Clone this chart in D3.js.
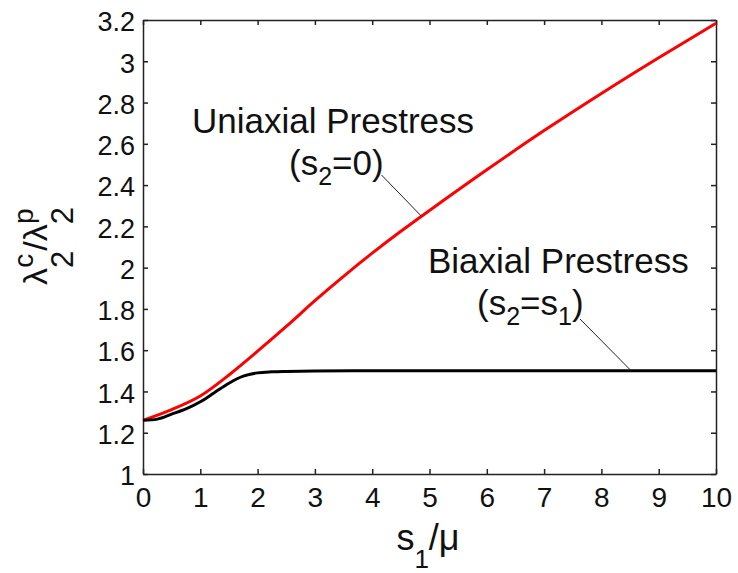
<!DOCTYPE html>
<html>
<head>
<meta charset="utf-8">
<script src="https://cdn.jsdelivr.net/npm/d3@7"></script>
<style>
  body { margin: 0; background: #fff; }
  text { font-family: "Liberation Sans", Arial, sans-serif; fill: #111; }
</style>
</head>
<body>
<script>
// values
const sUni = [0, 0.5, 1, 1.5, 2, 2.5, 3, 3.5, 4, 4.5, 5, 6, 7, 8, 9, 10]
const uniaxial = [1.26, 1.312, 1.378, 1.48, 1.595, 1.715, 1.84, 1.958, 2.07, 2.176, 2.277, 2.474, 2.664, 2.844, 3.017, 3.184]

const sBi = [0, 0.25, 0.5, 0.75, 1, 1.25, 1.5, 1.75, 2, 2.25, 2.5, 3, 4, 5, 6, 7, 8, 9, 10]
const biaxial = [1.26, 1.266, 1.29, 1.315, 1.35, 1.395, 1.44, 1.474, 1.49, 1.495, 1.497, 1.499, 1.5, 1.5, 1.5, 1.5, 1.5, 1.5, 1.5]

const xTicks = [0, 1, 2, 3, 4, 5, 6, 7, 8, 9, 10]
const yTicks = [1, 1.2, 1.4, 1.6, 1.8, 2, 2.2, 2.4, 2.6, 2.8, 3, 3.2]

let width = 738
let height = 573
let margin = { top: 20, right: 22, bottom: 99, left: 143 }
let w = width - margin.left - margin.right
let h = height - margin.top - margin.bottom

const svg = d3.select('body')
  .append('svg')
  .attr('width', width)
  .attr('height', height)

const g = svg.append('g')
  .attr('transform', `translate(${margin.left},${margin.top})`)

const x = d3.scaleLinear().domain([0, 10]).range([0, w])
const y = d3.scaleLinear().domain([1, 3.2]).range([h, 0])

const fmt = d => String(+d.toFixed(1))

function styleAxis(sel, size) {
  sel.attr('font-family', null).attr('font-size', size)
  sel.select('.domain').attr('stroke', '#222').attr('stroke-width', 1.5)
  sel.selectAll('.tick line').attr('stroke', '#222').attr('stroke-width', 1.5)
  sel.selectAll('.tick text').attr('fill', '#111')
}

// bottom + left with labels
g.append('g')
  .attr('transform', `translate(0,${h})`)
  .call(d3.axisBottom(x).tickValues(xTicks).tickFormat(fmt).tickSizeInner(-5).tickSizeOuter(0).tickPadding(13))
  .call(s => styleAxis(s, 28))

g.append('g')
  .call(d3.axisLeft(y).tickValues(yTicks).tickFormat(fmt).tickSizeInner(-5).tickSizeOuter(0).tickPadding(8))
  .call(s => styleAxis(s, 27))
  .call(s => s.selectAll('.tick text').attr('dy', '0.4em'))

// mirrored top + right, ticks only
g.append('g')
  .call(d3.axisTop(x).tickValues(xTicks).tickFormat('').tickSizeInner(-5).tickSizeOuter(0))
  .call(s => styleAxis(s, 10))

g.append('g')
  .attr('transform', `translate(${w},0)`)
  .call(d3.axisRight(y).tickValues(yTicks).tickFormat('').tickSizeInner(-5).tickSizeOuter(0))
  .call(s => styleAxis(s, 10))

const line = d3.line()
  .x(d => x(d[0]))
  .y(d => y(d[1]))
  .curve(d3.curveCatmullRom)

g.append('path')
  .datum(sUni.map((s, i) => [s, uniaxial[i]]))
  .attr('d', line)
  .attr('fill', 'none')
  .attr('stroke', '#ff0000')
  .attr('stroke-width', 3)

g.append('path')
  .datum(sBi.map((s, i) => [s, biaxial[i]]))
  .attr('d', line)
  .attr('fill', 'none')
  .attr('stroke', '#000')
  .attr('stroke-width', 3)

// annotations
const ann = svg.append('g').attr('font-size', 35)

ann.append('text').attr('x', 192).attr('y', 133).text('Uniaxial Prestress')
let t1 = ann.append('text').attr('x', 289).attr('y', 175)
t1.append('tspan').text('(s')
t1.append('tspan').attr('font-size', 25).attr('dy', 10).text('2')
t1.append('tspan').attr('dy', -10).text('=0)')

ann.append('text').attr('x', 428).attr('y', 273).text('Biaxial Prestress')
let t2 = ann.append('text').attr('x', 477).attr('y', 315)
t2.append('tspan').text('(s')
t2.append('tspan').attr('font-size', 25).attr('dy', 10).text('2')
t2.append('tspan').attr('dy', -10).text('=s')
t2.append('tspan').attr('font-size', 25).attr('dy', 10).text('1')
t2.append('tspan').attr('dy', -10).text(')')

// leader lines, ending on the curves
g.append('line')
  .attr('x1', 381.5 - margin.left).attr('y1', 175 - margin.top)
  .attr('x2', x(4.86)).attr('y2', y(2.249))
  .attr('stroke', '#222').attr('stroke-width', 1)

g.append('line')
  .attr('x1', 580 - margin.left).attr('y1', 319 - margin.top)
  .attr('x2', x(8.52)).attr('y2', y(1.5))
  .attr('stroke', '#222').attr('stroke-width', 1)

// x axis title  s1/mu
let xt = svg.append('text')
  .attr('x', 428).attr('y', 550)
  .attr('text-anchor', 'middle')
  .attr('font-size', 36)
xt.append('tspan').text('s')
xt.append('tspan').attr('font-size', 26).attr('dy', 18).text('1')
xt.append('tspan').attr('dy', -18).text('/μ')

// y axis title  lambda2^c / lambda2^p
let yt = svg.append('text')
  .attr('transform', 'translate(47,246) rotate(-90)')
  .attr('text-anchor', 'middle')
  .attr('font-size', 34)
yt.append('tspan').text('λ')
yt.append('tspan').attr('font-size', 31).attr('dy', 26).text('2')
yt.append('tspan').attr('font-size', 28).attr('dx', -17).attr('dy', -40).text('c')
yt.append('tspan').attr('dy', 14).attr('dx', 3).text('/λ')
yt.append('tspan').attr('font-size', 31).attr('dy', 26).text('2')
yt.append('tspan').attr('font-size', 28).attr('dx', -17).attr('dy', -40).text('p')
</script>
</body>
</html>
